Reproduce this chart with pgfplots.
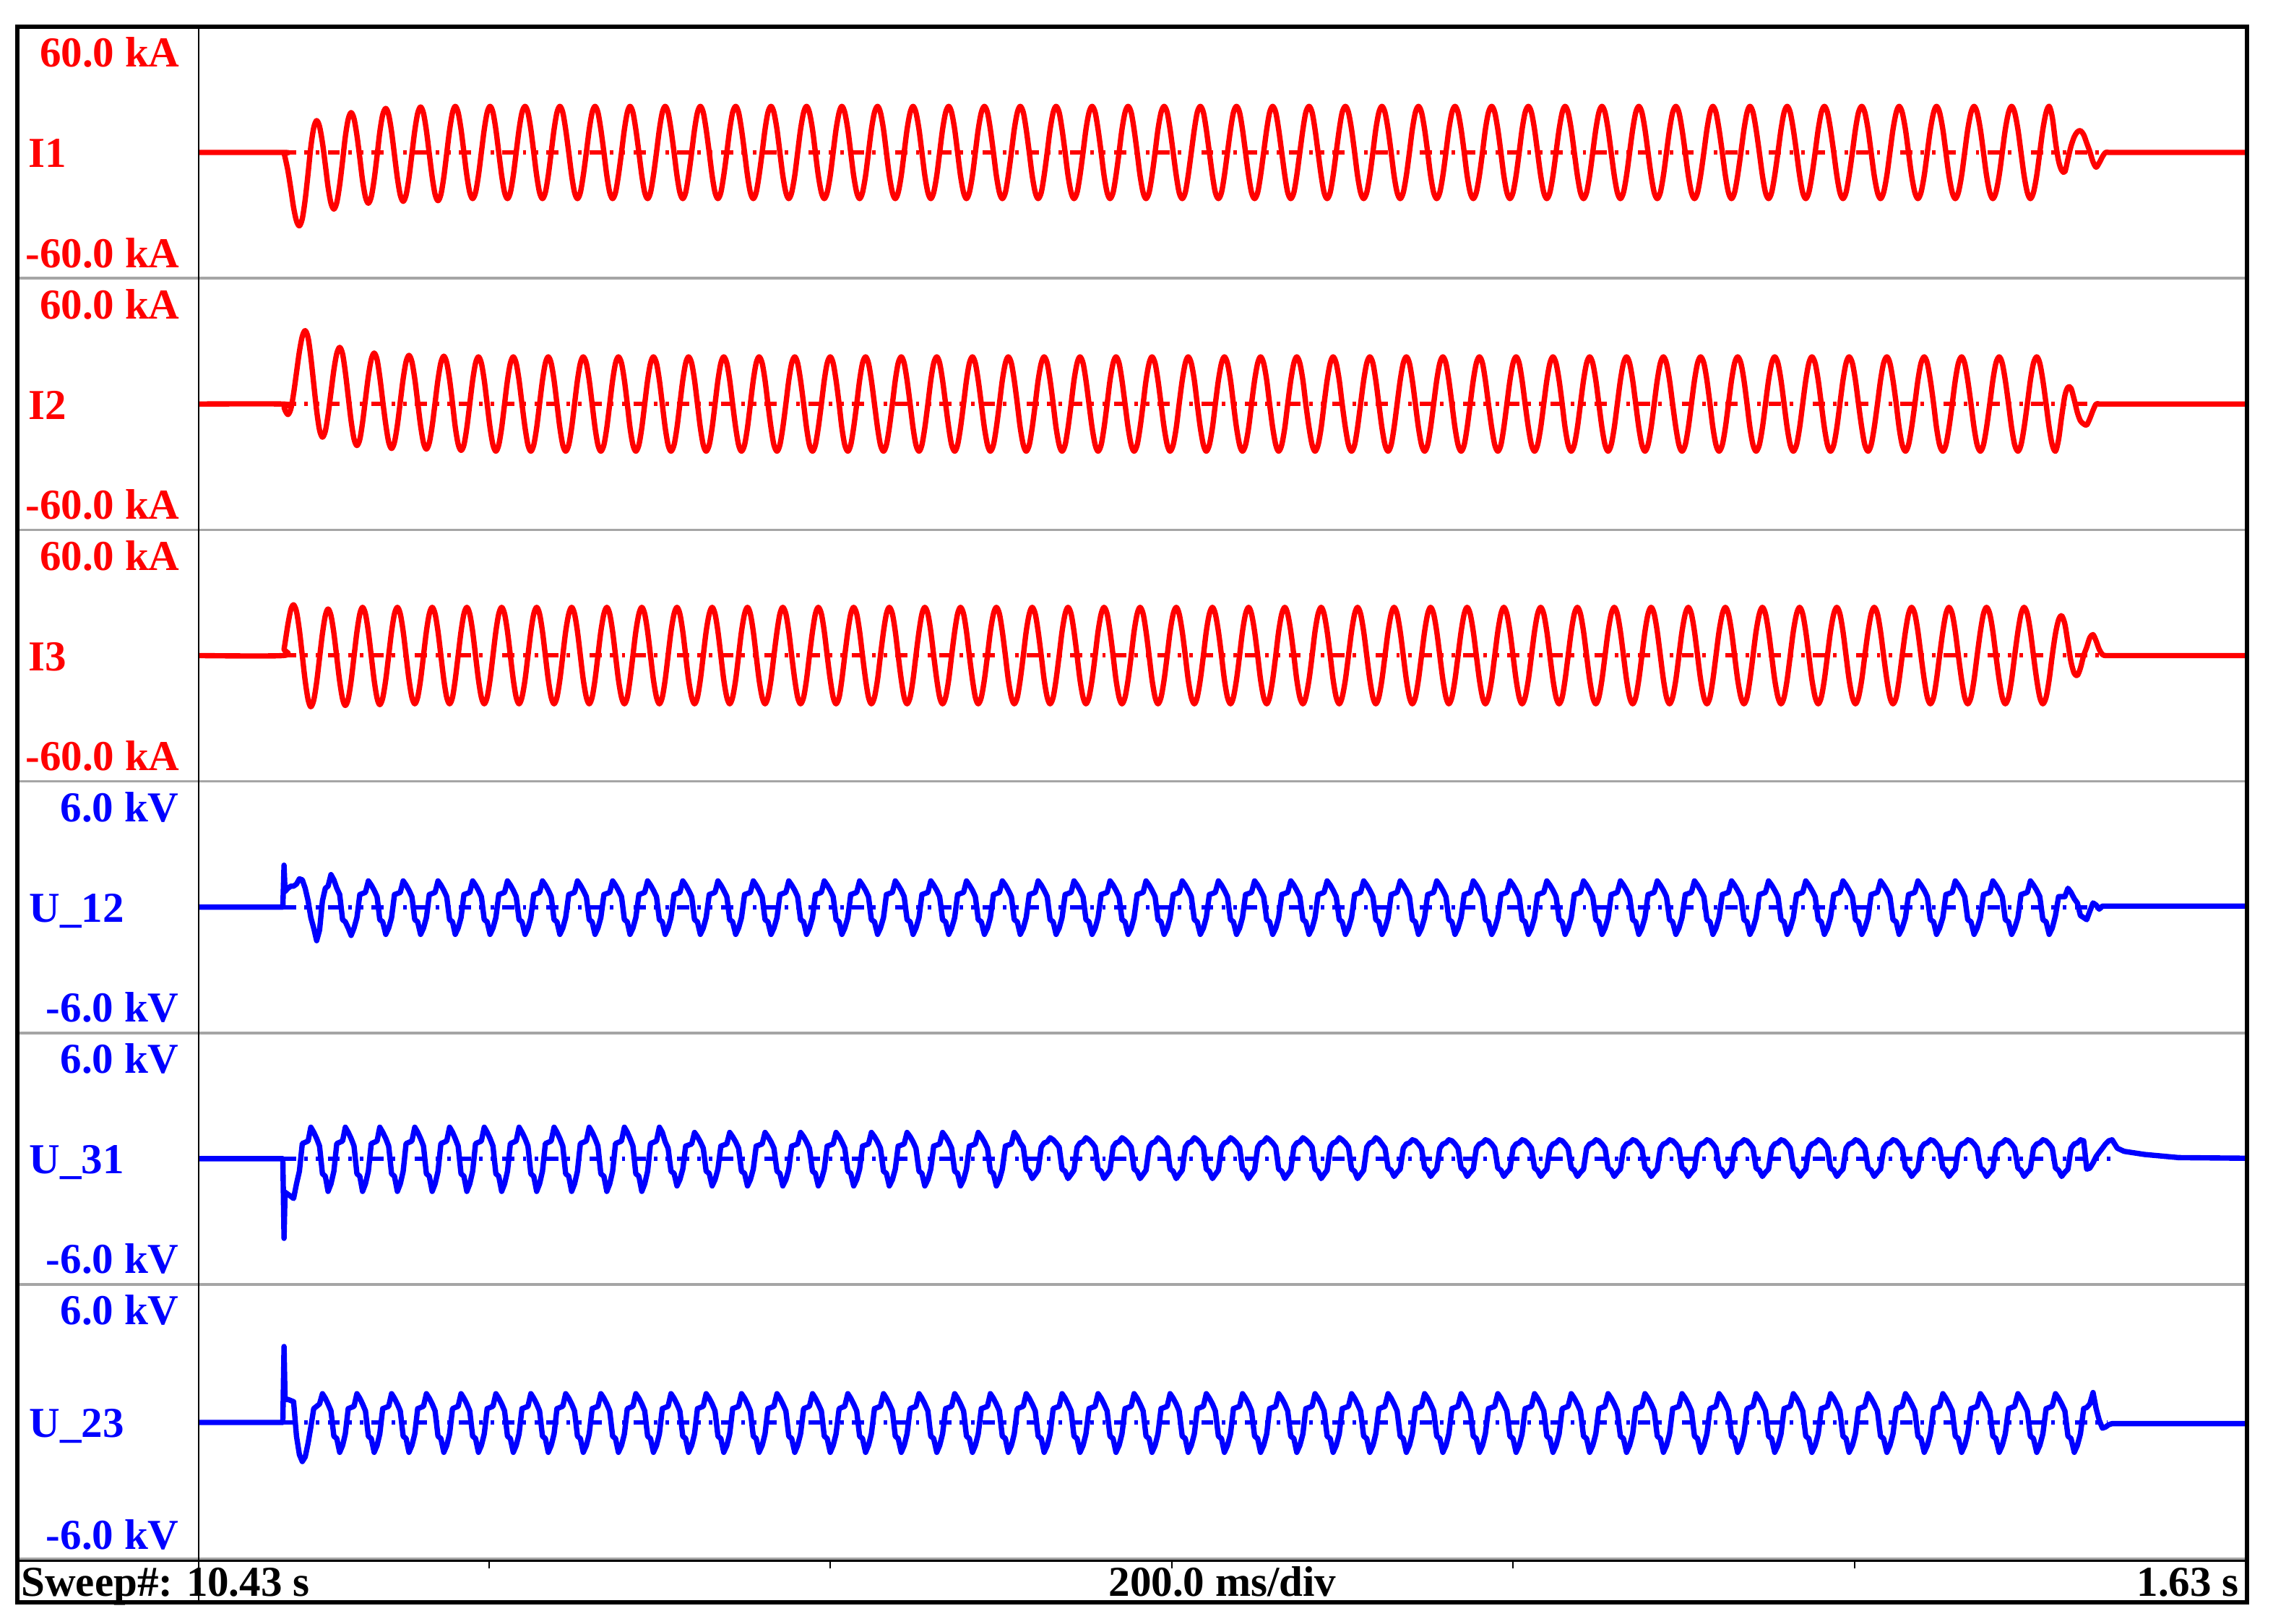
\documentclass[border=0pt]{standalone}
\usepackage{pgfplots}
\pgfplotsset{compat=1.18}
\usepackage{pgfplotstable}
\usepackage{fontspec}
\setmainfont{Liberation Serif}
\definecolor{trred}{RGB}{255,0,0}
\definecolor{trblue}{RGB}{0,0,255}
\definecolor{sepgray}{RGB}{165,165,165}

% t in ms, currents in kA, voltages in kV
\pgfplotstableread{
t i1 i2 i3 u12 u23 u31
430 0 0 0 0 0 0
479.3 0 0 0 0 0 0
480.0 -0.5 -1.5 3 2.0 3.3 -3.8
480.6 -2.3 -3 6 0.75 1.0 -1.6
482.3 -8.8 -5 15 0.9 1.0 -1.7
484.0 -17.5 -2.3 22 1.0 0.95 -1.8
485.6 -26.3 5 24.2 1.0 0.9 -1.9
487.3 -32.7 15 21 1.1 -0.6 -1.2
489.0 -35 25 12.1 1.35 -1.4 -0.6
490.7 -31.6 32.3 0 1.3 -1.7 0.72
492.4 -22.4 35 -12.1 0.9 -1.5 0.78
494.1 -9.9 31.6 -21 0.3 -0.9 0.84
495.7 2.7 22.3 -24.4 -0.5 -0.2 1.5
497.4 11.8 9.6 -21.3 -1.0 0.6 1.26
499.1 15.2 -3.1 -12.75 -1.6 0.7 0.96
500.8 12.4 -12.4 -1.1 -1.1 0.8 0.6
502.5 4.65 -15.8 10.5 0.3 1.25 -0.72
504.2 -5.9 -12.9 19.1 0.9 1.05 -0.84
505.8 -16.45 -5.1 22.2 1.0 0.8 -1.56
507.5 -24.2 5.6 19.1 1.55 0.5 -1.2
509.2 -27 16.3 10.7 1.3 -0.6 -0.6
510.9 -23.9 24.1 -0.8 0.9 -0.7 0.72
512.6 -15.5 27 -12.3 0.6 -1.3 0.78
514.3 -4 23.9 -20.7 -0.6 -1.0 0.84
515.9 7.5 15.3 -23.8 -0.7 -0.5 1.5
517.6 15.9 3.6 -20.7 -1.0 0.6 1.26
519.3 19 -8.1 -12.1 -1.35 0.65 0.96
521.0 16.1 -16.7 -0.4 -1.0 0.7 0.6
522.7 8.2 -19.8 11.3 -0.5 1.25 -0.72
524.4 -2.6 -16.85 19.9 0.6 1.05 -0.84
526.0 -13.4 -8.8 23 0.65 0.8 -1.56
527.7 -21.3 2.25 19.9 0.7 0.5 -1.2
529.4 -24.2 13.3 11.4 1.25 -0.6 -0.6
531.1 -21.2 21.3 -0.2 1.05 -0.7 0.72
532.8 -12.9 24.3 -11.8 0.8 -1.3 0.78
534.5 -1.6 21.25 -20.3 0.5 -1.0 0.84
536.1 9.7 12.9 -23.4 -0.6 -0.5 1.5
537.8 18.0 1.55 -20.3 -0.7 0.6 1.26
539.6 21 -9.8 -11.5 -1.3 0.65 0.96
541.3 18.0 -18.15 0 -1.0 0.7 0.6
543.0 9.9 -21.2 11.5 -0.5 1.25 -0.72
544.7 -1.2 -18.2 19.9 0.6 1.05 -0.84
546.4 -12.2 -10.1 23 0.65 0.8 -1.56
548.1 -20.3 1.0 19.9 0.7 0.5 -1.2
549.8 -23.3 12.1 11.5 1.25 -0.6 -0.6
551.5 -20.3 20.2 0 1.05 -0.7 0.72
553.2 -12.05 23.2 -11.5 0.8 -1.3 0.78
554.9 -0.8 20.2 -19.9 0.5 -1.0 0.84
556.6 10.45 12.0 -23 -0.6 -0.5 1.5
558.3 18.7 0.85 -19.9 -0.7 0.6 1.26
560.0 21.7 -10.3 -11.5 -1.3 0.65 0.96
561.7 18.7 -18.5 0 -1.0 0.7 0.6
563.4 10.5 -21.5 11.5 -0.5 1.25 -0.72
565.1 -0.65 -18.5 19.9 0.6 1.05 -0.84
566.8 -11.8 -10.4 23 0.65 0.8 -1.56
568.5 -20.0 0.65 19.9 0.7 0.5 -1.2
570.2 -23 11.7 11.5 1.25 -0.6 -0.6
571.9 -20.0 19.8 0 1.05 -0.7 0.72
573.6 -11.75 22.8 -11.5 0.8 -1.3 0.78
575.3 -0.5 19.8 -19.9 0.5 -1.0 0.84
577.0 10.75 11.6 -23 -0.6 -0.5 1.5
578.7 19.0 0.35 -19.9 -0.7 0.6 1.26
580.3 22 -10.9 -11.5 -1.3 0.65 0.96
582.0 19.1 -19.1 0 -1.0 0.7 0.6
583.7 11 -22.1 11.5 -0.5 1.25 -0.72
585.4 0 -19.5 19.9 0.6 1.05 -0.84
587.1 -11 -11.3 23 0.65 0.8 -1.56
588.8 -19.1 0 19.9 0.7 0.5 -1.2
590.5 -22 11.3 11.5 1.25 -0.6 -0.6
592.2 -19.1 19.5 0 1.05 -0.7 0.72
593.9 -11 22.5 -11.5 0.8 -1.3 0.78
595.6 0 19.5 -19.9 0.5 -1.0 0.84
597.3 11 11.3 -23 -0.6 -0.5 1.5
599.0 19.1 0 -19.9 -0.7 0.6 1.26
600.7 22 -11.3 -11.5 -1.3 0.65 0.96
602.4 19.1 -19.5 0 -1.0 0.7 0.6
604.1 11 -22.5 11.5 -0.5 1.25 -0.72
605.8 0 -19.5 19.9 0.6 1.05 -0.84
607.5 -11 -11.3 23 0.65 0.8 -1.56
609.2 -19.1 0 19.9 0.7 0.5 -1.2
610.9 -22 11.3 11.5 1.25 -0.6 -0.6
612.6 -19.1 19.5 0 1.05 -0.7 0.72
614.3 -11 22.5 -11.5 0.8 -1.3 0.78
616.0 0 19.5 -19.9 0.5 -1.0 0.84
617.7 11 11.3 -23 -0.6 -0.5 1.5
619.4 19.1 0 -19.9 -0.7 0.6 1.26
621.2 22 -11.3 -11.5 -1.3 0.65 0.96
622.9 19.1 -19.5 0 -1.0 0.7 0.6
624.6 11 -22.5 11.5 -0.5 1.25 -0.72
626.3 0 -19.5 19.9 0.6 1.05 -0.84
628.0 -11 -11.3 23 0.65 0.8 -1.56
629.7 -19.1 0 19.9 0.7 0.5 -1.2
631.4 -22 11.3 11.5 1.25 -0.6 -0.6
633.1 -19.1 19.5 0 1.05 -0.7 0.72
634.8 -11 22.5 -11.5 0.8 -1.3 0.78
636.5 0 19.5 -19.9 0.5 -1.0 0.84
638.2 11 11.3 -23 -0.6 -0.5 1.5
639.9 19.1 0 -19.9 -0.7 0.6 1.26
641.6 22 -11.3 -11.5 -1.3 0.65 0.96
643.3 19.1 -19.5 0 -1.0 0.7 0.6
645.0 11 -22.5 11.5 -0.5 1.25 -0.72
646.8 0 -19.5 19.9 0.6 1.05 -0.84
648.5 -11 -11.3 23 0.65 0.8 -1.56
650.2 -19.1 0 19.9 0.7 0.5 -1.2
651.9 -22 11.3 11.5 1.25 -0.6 -0.6
653.6 -19.1 19.5 0 1.05 -0.7 0.72
655.3 -11 22.5 -11.5 0.8 -1.3 0.78
657.1 0 19.5 -19.9 0.5 -1.0 0.84
658.8 11 11.3 -23 -0.6 -0.5 1.5
660.5 19.1 0 -19.9 -0.7 0.6 1.26
662.2 22 -11.3 -11.5 -1.3 0.65 0.96
663.9 19.1 -19.5 0 -1.0 0.7 0.6
665.6 11 -22.5 11.5 -0.5 1.25 -0.72
667.4 0 -19.5 19.9 0.6 1.05 -0.84
669.1 -11 -11.3 23 0.65 0.8 -1.56
670.8 -19.1 0 19.9 0.7 0.5 -1.2
672.5 -22 11.3 11.5 1.25 -0.6 -0.6
674.2 -19.1 19.5 0 1.05 -0.7 0.72
675.9 -11 22.5 -11.5 0.8 -1.3 0.78
677.7 0 19.5 -19.9 0.5 -1.0 0.84
679.4 11 11.3 -23 -0.6 -0.5 1.5
681.1 19.1 0 -19.9 -0.7 0.6 1.26
682.7 22 -11.3 -11.5 -1.3 0.65 0.96
684.4 19.1 -19.5 0 -1.0 0.7 0.6
686.1 11 -22.5 11.5 -0.5 1.25 -0.72
687.9 0 -19.5 19.9 0.6 1.05 -0.84
689.6 -11 -11.3 23 0.65 0.8 -1.56
691.3 -19.1 0 19.9 0.7 0.5 -1.2
693.0 -22 11.3 11.5 1.25 -0.6 -0.6
694.7 -19.1 19.5 0 1.05 -0.7 0.72
696.4 -11 22.5 -11.5 0.8 -1.3 0.78
698.2 0 19.5 -19.9 0.5 -1.0 0.84
699.9 11 11.3 -23 -0.6 -0.5 1.5
701.6 19.1 0 -19.9 -0.7 0.6 1.26
703.3 22 -11.3 -11.5 -1.3 0.65 0.8
705.0 19.1 -19.5 0 -1.0 0.7 0.5
706.7 11 -22.5 11.5 -0.5 1.25 -0.6
708.5 0 -19.5 19.9 0.6 1.05 -0.7
710.2 -11 -11.3 23 0.65 0.8 -1.3
711.9 -19.1 0 19.9 0.7 0.5 -1.0
713.6 -22 11.3 11.5 1.25 -0.6 -0.5
715.3 -19.1 19.5 0 1.05 -0.7 0.6
717.0 -11 22.5 -11.5 0.8 -1.3 0.65
718.8 0 19.5 -19.9 0.5 -1.0 0.7
720.5 11 11.3 -23 -0.6 -0.5 1.25
722.2 19.1 0 -19.9 -0.7 0.6 1.05
723.9 22 -11.3 -11.5 -1.3 0.65 0.8
725.6 19.1 -19.5 0 -1.0 0.7 0.5
727.3 11 -22.5 11.5 -0.5 1.25 -0.6
729.1 0 -19.5 19.9 0.6 1.05 -0.7
730.8 -11 -11.3 23 0.65 0.8 -1.3
732.5 -19.1 0 19.9 0.7 0.5 -1.0
734.2 -22 11.3 11.5 1.25 -0.6 -0.5
735.9 -19.1 19.5 0 1.05 -0.7 0.6
737.6 -11 22.5 -11.5 0.8 -1.3 0.65
739.4 0 19.5 -19.9 0.5 -1.0 0.7
741.1 11 11.3 -23 -0.6 -0.5 1.25
742.8 19.1 0 -19.9 -0.7 0.6 1.05
744.6 22 -11.3 -11.5 -1.3 0.65 0.8
746.3 19.1 -19.5 0 -1.0 0.7 0.5
748.0 11 -22.5 11.5 -0.5 1.25 -0.6
749.8 0 -19.5 19.9 0.6 1.05 -0.7
751.5 -11 -11.3 23 0.65 0.8 -1.3
753.2 -19.1 0 19.9 0.7 0.5 -1.0
754.9 -22 11.3 11.5 1.25 -0.6 -0.5
756.6 -19.1 19.5 0 1.05 -0.7 0.6
758.3 -11 22.5 -11.5 0.8 -1.3 0.65
760.1 0 19.5 -19.9 0.5 -1.0 0.7
761.8 11 11.3 -23 -0.6 -0.5 1.25
763.5 19.1 0 -19.9 -0.7 0.6 1.05
765.3 22 -11.3 -11.5 -1.3 0.65 0.8
767.0 19.1 -19.5 0 -1.0 0.7 0.5
768.8 11 -22.5 11.5 -0.5 1.25 -0.6
770.5 0 -19.5 19.9 0.6 1.05 -0.7
772.2 -11 -11.3 23 0.65 0.8 -1.3
774.0 -19.1 0 19.9 0.7 0.5 -1.0
775.7 -22 11.3 11.5 1.25 -0.6 -0.5
777.4 -19.1 19.5 0 1.05 -0.7 0.6
779.2 -11 22.5 -11.5 0.8 -1.3 0.65
780.9 0 19.5 -19.9 0.5 -1.0 0.7
782.6 11 11.3 -23 -0.6 -0.5 1.25
784.4 19.1 0 -19.9 -0.7 0.6 1.05
786.1 22 -11.3 -11.5 -1.3 0.65 0.8
787.8 19.1 -19.5 0 -1.0 0.7 0.5
789.6 11 -22.5 11.5 -0.5 1.25 -0.6
791.3 0 -19.5 19.9 0.6 1.05 -0.7
793.0 -11 -11.3 23 0.65 0.8 -1.3
794.8 -19.1 0 19.9 0.7 0.5 -1.0
796.5 -22 11.3 11.5 1.25 -0.6 -0.5
798.2 -19.1 19.5 0 1.05 -0.7 0.6
800.0 -11 22.5 -11.5 0.8 -1.3 0.65
801.7 0 19.5 -19.9 0.5 -1.0 0.7
803.4 11 11.3 -23 -0.6 -0.5 1.25
805.2 19.1 0 -19.9 -0.7 0.6 1.05
806.8 22 -11.3 -11.5 -1.3 0.65 0.8
808.5 19.1 -19.5 0 -1.0 0.7 0.5
810.3 11 -22.5 11.5 -0.5 1.25 -0.6
812.0 0 -19.5 19.9 0.6 1.05 -0.7
813.7 -11 -11.3 23 0.65 0.8 -1.3
815.5 -19.1 0 19.9 0.7 0.5 -1.0
817.2 -22 11.3 11.5 1.25 -0.6 -0.5
818.9 -19.1 19.5 0 1.05 -0.7 0.6
820.7 -11 22.5 -11.5 0.8 -1.3 0.65
822.4 0 19.5 -19.9 0.5 -1.0 0.7
824.1 11 11.3 -23 -0.6 -0.5 1.25
825.9 19.1 0 -19.9 -0.7 0.6 1.05
827.7 22 -11.3 -11.5 -1.3 0.65 0.8
829.4 19.1 -19.5 0 -1.0 0.7 0.5
831.2 11 -22.5 11.5 -0.5 1.25 -0.6
832.9 0 -19.5 19.9 0.6 1.05 -0.7
834.6 -11 -11.3 23 0.65 0.8 -1.3
836.4 -19.1 0 19.9 0.7 0.5 -1.0
838.1 -22 11.3 11.5 1.25 -0.6 -0.5
839.8 -19.1 19.5 0 1.05 -0.7 0.6
841.6 -11 22.5 -11.5 0.8 -1.3 0.65
843.3 0 19.5 -19.9 0.5 -1.0 0.7
845.0 11 11.3 -23 -0.6 -0.5 1.25
846.8 19.1 0 -19.9 -0.7 0.6 1.05
848.5 22 -11.3 -11.5 -1.3 0.65 0.8
850.2 19.1 -19.5 0 -1.0 0.7 0.5
852.0 11 -22.5 11.5 -0.5 1.25 -0.6
853.7 0 -19.5 19.9 0.6 1.05 -0.7
855.4 -11 -11.3 23 0.65 0.8 -1.3
857.2 -19.1 0 19.9 0.7 0.5 -1.0
858.9 -22 11.3 11.5 1.25 -0.6 -0.5
860.6 -19.1 19.5 0 1.05 -0.7 0.6
862.4 -11 22.5 -11.5 0.8 -1.3 0.65
864.1 0 19.5 -19.9 0.5 -1.0 0.7
865.8 11 11.3 -23 -0.6 -0.5 1.25
867.6 19.1 0 -19.9 -0.7 0.6 1.05
869.4 22 -11.3 -11.5 -1.3 0.65 0.8
871.1 19.1 -19.5 0 -1.0 0.7 0.5
872.9 11 -22.5 11.5 -0.5 1.25 -0.6
874.6 0 -19.5 19.9 0.6 1.05 -0.7
876.3 -11 -11.3 23 0.65 0.8 -1.3
878.1 -19.1 0 19.9 0.7 0.5 -1.0
879.8 -22 11.3 11.5 1.25 -0.6 -0.5
881.5 -19.1 19.5 0 1.05 -0.7 0.6
883.3 -11 22.5 -11.5 0.8 -1.3 0.65
885.0 0 19.5 -19.9 0.5 -1.0 0.7
886.7 11 11.3 -23 -0.6 -0.5 1.25
888.5 19.1 0 -19.9 -0.7 0.6 1.05
890.3 22 -11.3 -11.5 -1.3 0.65 0.8
892.1 19.1 -19.5 0 -1.0 0.7 0.5
893.8 11 -22.5 11.5 -0.5 1.25 -0.6
895.6 0 -19.5 19.9 0.6 1.05 -0.7
897.3 -11 -11.3 23 0.65 0.8 -1.3
899.1 -19.1 0 19.9 0.7 0.5 -1.0
900.8 -22 11.3 11.5 1.25 -0.6 -0.5
902.6 -19.1 19.5 0 1.05 -0.7 0.6
904.3 -11 22.5 -11.5 0.8 -1.3 0.65
906.1 0 19.5 -19.9 0.5 -1.0 0.7
907.8 11 11.3 -23 -0.6 -0.5 1.25
909.6 19.1 0 -19.9 -0.7 0.6 1.05
911.3 22 -11.3 -11.5 -1.3 0.65 0.75
913.1 19.1 -19.5 0 -1.0 0.7 0.55
914.8 11 -22.5 11.5 -0.5 1.25 -0.5
916.6 0 -19.5 19.9 0.6 1.05 -0.6
918.3 -11 -11.3 23 0.65 0.8 -0.95
920.1 -19.1 0 19.9 0.7 0.5 -0.75
921.8 -22 11.3 11.5 1.25 -0.6 -0.55
923.6 -19.1 19.5 0 1.05 -0.7 0.55
925.3 -11 22.5 -11.5 0.8 -1.3 0.75
927.1 0 19.5 -19.9 0.5 -1.0 0.8
928.8 11 11.3 -23 -0.6 -0.5 1.0
930.6 19.1 0 -19.9 -0.7 0.6 0.9
932.3 22 -11.3 -11.5 -1.3 0.65 0.75
934.1 19.1 -19.5 0 -1.0 0.7 0.55
935.8 11 -22.5 11.5 -0.5 1.25 -0.5
937.6 0 -19.5 19.9 0.6 1.05 -0.6
939.3 -11 -11.3 23 0.65 0.8 -0.95
941.1 -19.1 0 19.9 0.7 0.5 -0.75
942.8 -22 11.3 11.5 1.25 -0.6 -0.55
944.6 -19.1 19.5 0 1.05 -0.7 0.55
946.3 -11 22.5 -11.5 0.8 -1.3 0.75
948.1 0 19.5 -19.9 0.5 -1.0 0.8
949.8 11 11.3 -23 -0.6 -0.5 1.0
951.6 19.1 0 -19.9 -0.7 0.6 0.9
953.4 22 -11.3 -11.5 -1.3 0.65 0.75
955.2 19.1 -19.5 0 -1.0 0.7 0.55
956.9 11 -22.5 11.5 -0.5 1.25 -0.5
958.7 0 -19.5 19.9 0.6 1.05 -0.6
960.4 -11 -11.3 23 0.65 0.8 -0.95
962.2 -19.1 0 19.9 0.7 0.5 -0.75
963.9 -22 11.3 11.5 1.25 -0.6 -0.55
965.7 -19.1 19.5 0 1.05 -0.7 0.55
967.4 -11 22.5 -11.5 0.8 -1.3 0.75
969.2 0 19.5 -19.9 0.5 -1.0 0.8
970.9 11 11.3 -23 -0.6 -0.5 1.0
972.7 19.1 0 -19.9 -0.7 0.6 0.9
974.5 22 -11.3 -11.5 -1.3 0.65 0.75
976.3 19.1 -19.5 0 -1.0 0.7 0.55
978.0 11 -22.5 11.5 -0.5 1.25 -0.5
979.8 0 -19.5 19.9 0.6 1.05 -0.6
981.5 -11 -11.3 23 0.65 0.8 -0.95
983.3 -19.1 0 19.9 0.7 0.5 -0.75
985.0 -22 11.3 11.5 1.25 -0.6 -0.55
986.8 -19.1 19.5 0 1.05 -0.7 0.55
988.5 -11 22.5 -11.5 0.8 -1.3 0.75
990.3 0 19.5 -19.9 0.5 -1.0 0.8
992.0 11 11.3 -23 -0.6 -0.5 1.0
993.8 19.1 0 -19.9 -0.7 0.6 0.9
995.6 22 -11.3 -11.5 -1.3 0.65 0.75
997.4 19.1 -19.5 0 -1.0 0.7 0.55
999.1 11 -22.5 11.5 -0.5 1.25 -0.5
1000.9 0 -19.5 19.9 0.6 1.05 -0.6
1002.7 -11 -11.3 23 0.65 0.8 -0.95
1004.4 -19.1 0 19.9 0.7 0.5 -0.75
1006.2 -22 11.3 11.5 1.25 -0.6 -0.55
1008.0 -19.1 19.5 0 1.05 -0.7 0.55
1009.7 -11 22.5 -11.5 0.8 -1.3 0.75
1011.5 0 19.5 -19.9 0.5 -1.0 0.8
1013.3 11 11.3 -23 -0.6 -0.5 1.0
1015.0 19.1 0 -19.9 -0.7 0.6 0.9
1016.8 22 -11.3 -11.5 -1.3 0.65 0.75
1018.6 19.1 -19.5 0 -1.0 0.7 0.55
1020.3 11 -22.5 11.5 -0.5 1.25 -0.5
1022.1 0 -19.5 19.9 0.6 1.05 -0.6
1023.9 -11 -11.3 23 0.65 0.8 -0.95
1025.6 -19.1 0 19.9 0.7 0.5 -0.75
1027.4 -22 11.3 11.5 1.25 -0.6 -0.55
1029.2 -19.1 19.5 0 1.05 -0.7 0.55
1030.9 -11 22.5 -11.5 0.8 -1.3 0.75
1032.7 0 19.5 -19.9 0.5 -1.0 0.8
1034.5 11 11.3 -23 -0.6 -0.5 1.0
1036.2 19.1 0 -19.9 -0.7 0.6 0.9
1038.0 22 -11.3 -11.5 -1.3 0.65 0.75
1039.8 19.1 -19.5 0 -1.0 0.7 0.55
1041.5 11 -22.5 11.5 -0.5 1.25 -0.5
1043.3 0 -19.5 19.9 0.6 1.05 -0.6
1045.1 -11 -11.3 23 0.65 0.8 -0.95
1046.8 -19.1 0 19.9 0.7 0.5 -0.75
1048.6 -22 11.3 11.5 1.25 -0.6 -0.55
1050.4 -19.1 19.5 0 1.05 -0.7 0.55
1052.1 -11 22.5 -11.5 0.8 -1.3 0.75
1053.9 0 19.5 -19.9 0.5 -1.0 0.8
1055.7 11 11.3 -23 -0.6 -0.5 1.0
1057.4 19.1 0 -19.9 -0.7 0.6 0.9
1059.2 22 -11.3 -11.5 -1.3 0.65 0.75
1061.0 19.1 -19.5 0 -1.0 0.7 0.55
1062.7 11 -22.5 11.5 -0.5 1.25 -0.5
1064.5 0 -19.5 19.9 0.6 1.05 -0.6
1066.3 -11 -11.3 23 0.65 0.8 -0.95
1068.0 -19.1 0 19.9 0.7 0.5 -0.75
1069.8 -22 11.3 11.5 1.25 -0.6 -0.55
1071.6 -19.1 19.5 0 1.05 -0.7 0.55
1073.3 -11 22.5 -11.5 0.8 -1.3 0.75
1075.1 0 19.5 -19.9 0.5 -1.0 0.8
1076.9 11 11.3 -23 -0.6 -0.5 1.0
1078.6 19.1 0 -19.9 -0.7 0.6 0.9
1080.5 22 -11.3 -11.5 -1.3 0.65 0.75
1082.3 19.1 -19.5 0 -1.0 0.7 0.55
1084.0 11 -22.5 11.5 -0.5 1.25 -0.5
1085.8 0 -19.5 19.9 0.6 1.05 -0.6
1087.6 -11 -11.3 23 0.65 0.8 -0.95
1089.3 -19.1 0 19.9 0.7 0.5 -0.75
1091.1 -22 11.3 11.5 1.25 -0.6 -0.55
1092.9 -19.1 19.5 0 1.05 -0.7 0.55
1094.6 -11 22.5 -11.5 0.8 -1.3 0.75
1096.4 0 19.5 -19.9 0.5 -1.0 0.8
1098.2 11 11.3 -23 -0.6 -0.5 1.0
1099.9 19.1 0 -19.9 -0.7 0.6 0.9
1101.8 22 -11.3 -11.5 -1.3 0.65 0.75
1103.6 19.1 -19.5 0 -1.0 0.7 0.55
1105.4 11 -22.5 11.5 -0.5 1.25 -0.5
1107.2 0 -19.5 19.9 0.6 1.05 -0.6
1108.9 -11 -11.3 23 0.65 0.8 -0.95
1110.7 -19.1 0 19.9 0.7 0.5 -0.75
1112.5 -22 11.3 11.5 1.25 -0.6 -0.55
1114.3 -19.1 19.5 0 1.05 -0.7 0.55
1116.1 -11 22.5 -11.5 0.8 -1.3 0.75
1117.9 0 19.5 -19.9 0.5 -1.0 0.8
1119.6 11 11.3 -23 -0.6 -0.5 1.0
1121.4 19.1 0 -19.9 -0.7 0.6 0.9
1123.2 22 -11.3 -11.5 -1.3 0.65 0.7
1125.0 19.1 -19.5 0 -1.0 0.7 0.5
1126.8 11 -22.5 11.5 -0.5 1.25 -0.45
1128.6 0 -19.5 19.9 0.6 1.05 -0.55
1130.3 -11 -11.3 23 0.65 0.8 -0.85
1132.1 -19.1 0 19.9 0.7 0.5 -0.65
1133.9 -22 11.3 11.5 1.25 -0.6 -0.5
1135.7 -19.1 19.5 0 1.05 -0.7 0.5
1137.5 -11 22.5 -11.5 0.8 -1.3 0.7
1139.3 0 19.5 -19.9 0.5 -1.0 0.75
1141.0 11 11.3 -23 -0.6 -0.5 0.9
1142.8 19.1 0 -19.9 -0.7 0.6 0.85
1144.6 22 -11.3 -11.5 -1.3 0.65 0.7
1146.4 19.1 -19.5 0 -1.0 0.7 0.5
1148.2 11 -22.5 11.5 -0.5 1.25 -0.45
1150.0 0 -19.5 19.9 0.6 1.05 -0.55
1151.7 -11 -11.3 23 0.65 0.8 -0.85
1153.5 -19.1 0 19.9 0.7 0.5 -0.65
1155.3 -22 11.3 11.5 1.25 -0.6 -0.5
1157.1 -19.1 19.5 0 1.05 -0.7 0.5
1158.9 -11 22.5 -11.5 0.8 -1.3 0.7
1160.7 0 19.5 -19.9 0.5 -1.0 0.75
1162.4 11 11.3 -23 -0.6 -0.5 0.9
1164.2 19.1 0 -19.9 -0.7 0.6 0.85
1166.0 22 -11.3 -11.5 -1.3 0.65 0.7
1167.8 19.1 -19.5 0 -1.0 0.7 0.5
1169.6 11 -22.5 11.5 -0.5 1.25 -0.45
1171.4 0 -19.5 19.9 0.6 1.05 -0.55
1173.1 -11 -11.3 23 0.65 0.8 -0.85
1174.9 -19.1 0 19.9 0.7 0.5 -0.65
1176.7 -22 11.3 11.5 1.25 -0.6 -0.5
1178.5 -19.1 19.5 0 1.05 -0.7 0.5
1180.3 -11 22.5 -11.5 0.8 -1.3 0.7
1182.1 0 19.5 -19.9 0.5 -1.0 0.75
1183.8 11 11.3 -23 -0.6 -0.5 0.9
1185.6 19.1 0 -19.9 -0.7 0.6 0.85
1187.5 22 -11.3 -11.5 -1.3 0.65 0.7
1189.3 19.1 -19.5 0 -1.0 0.7 0.5
1191.1 11 -22.5 11.5 -0.5 1.25 -0.45
1192.9 0 -19.5 19.9 0.6 1.05 -0.55
1194.6 -11 -11.3 23 0.65 0.8 -0.85
1196.4 -19.1 0 19.9 0.7 0.5 -0.65
1198.2 -22 11.3 11.5 1.25 -0.6 -0.5
1200.0 -19.1 19.5 0 1.05 -0.7 0.5
1201.8 -11 22.5 -11.5 0.8 -1.3 0.7
1203.6 0 19.5 -19.9 0.5 -1.0 0.75
1205.3 11 11.3 -23 -0.6 -0.5 0.9
1207.1 19.1 0 -19.9 -0.7 0.6 0.85
1209.0 22 -11.3 -11.5 -1.3 0.65 0.7
1210.8 19.1 -19.5 0 -1.0 0.7 0.5
1212.6 11 -22.5 11.5 -0.5 1.25 -0.45
1214.4 0 -19.5 19.9 0.6 1.05 -0.55
1216.2 -11 -11.3 23 0.65 0.8 -0.85
1218.0 -19.1 0 19.9 0.7 0.5 -0.65
1219.8 -22 11.3 11.5 1.25 -0.6 -0.5
1221.6 -19.1 19.5 0 1.05 -0.7 0.5
1223.4 -11 22.5 -11.5 0.8 -1.3 0.7
1225.2 0 19.5 -19.9 0.5 -1.0 0.75
1227.0 11 11.3 -23 -0.6 -0.5 0.9
1228.8 19.1 0 -19.9 -0.7 0.6 0.85
1230.5 22 -11.3 -11.5 -1.3 0.65 0.7
1232.3 19.1 -19.5 0 -1.0 0.7 0.5
1234.1 11 -22.5 11.5 -0.5 1.25 -0.45
1235.9 0 -19.5 19.9 0.6 1.05 -0.55
1237.7 -11 -11.3 23 0.65 0.8 -0.85
1239.5 -19.1 0 19.9 0.7 0.5 -0.65
1241.3 -22 11.3 11.5 1.25 -0.6 -0.5
1243.1 -19.1 19.5 0 1.05 -0.7 0.5
1244.9 -11 22.5 -11.5 0.8 -1.3 0.7
1246.7 0 19.5 -19.9 0.5 -1.0 0.75
1248.5 11 11.3 -23 -0.6 -0.5 0.9
1250.3 19.1 0 -19.9 -0.7 0.6 0.85
1252.1 22 -11.3 -11.5 -1.3 0.65 0.7
1253.9 19.1 -19.5 0 -1.0 0.7 0.5
1255.7 11 -22.5 11.5 -0.5 1.25 -0.45
1257.5 0 -19.5 19.9 0.6 1.05 -0.55
1259.3 -11 -11.3 23 0.65 0.8 -0.85
1261.1 -19.1 0 19.9 0.7 0.5 -0.65
1262.9 -22 11.3 11.5 1.25 -0.6 -0.5
1264.7 -19.1 19.5 0 1.05 -0.7 0.5
1266.5 -11 22.5 -11.5 0.8 -1.3 0.7
1268.3 0 19.5 -19.9 0.5 -1.0 0.75
1270.1 11 11.3 -23 -0.6 -0.5 0.9
1271.9 19.1 0 -19.9 -0.7 0.6 0.85
1273.7 22 -11.3 -11.5 -1.3 0.65 0.7
1275.5 19.1 -19.5 0 -1.0 0.7 0.5
1277.3 11 -22.5 11.5 -0.5 1.25 -0.45
1279.1 0 -19.5 19.9 0.6 1.05 -0.55
1280.9 -11 -11.3 23 0.65 0.8 -0.85
1282.7 -19.1 0 19.9 0.7 0.5 -0.65
1284.5 -22 11.3 11.5 1.25 -0.6 -0.5
1286.3 -19.1 19.5 0 1.05 -0.7 0.5
1288.1 -11 22.5 -11.5 0.8 -1.3 0.7
1289.9 0 19.5 -19.9 0.5 -1.0 0.75
1291.7 11 11.3 -23 -0.6 -0.5 0.9
1293.5 19.1 0 -19.9 -0.7 0.6 0.85
1295.4 22 -11.3 -11.5 -1.3 0.65 0.7
1297.2 19.1 -19.5 0 -1.0 0.7 0.5
1299.0 11 -22.5 11.5 -0.5 1.25 -0.45
1300.9 0 -19.5 19.9 0.6 1.05 -0.55
1302.7 -11 -11.3 23 0.65 0.8 -0.85
1304.5 -19.1 0 19.9 0.7 0.5 -0.65
1306.3 -22 11.3 11.5 1.25 -0.6 -0.5
1308.1 -19.1 19.5 0 1.05 -0.7 0.5
1309.9 -11 22.5 -11.5 0.8 -1.3 0.7
1311.8 0 19.5 -19.9 0.5 -1.0 0.75
1313.6 11 11.3 -23 -0.6 -0.5 0.9
1315.4 19.1 0 -19.9 -0.7 0.6 0.85
1317.1 22 -11.3 -11.5 -1.3 0.65 0.7
1318.9 19.1 -19.5 0 -1.0 0.7 0.5
1320.7 11 -22.5 11.5 -0.5 1.25 -0.45
1322.6 0 -19.5 19.9 0.6 1.05 -0.55
1324.4 -11 -11.3 23 0.65 0.8 -0.85
1326.2 -19.1 0 19.9 0.7 0.5 -0.65
1328.0 -22 11.3 11.5 1.25 -0.6 -0.5
1329.8 -19.1 19.5 0 1.05 -0.7 0.5
1331.6 -11 22.5 -11.5 0.8 -1.3 0.7
1333.5 0 19.5 -19.9 0.5 -1.0 0.75
1335.3 11 11.3 -23 -0.6 -0.5 0.9
1337.1 19.1 0 -19.9 -0.7 0.6 0.85
1338.8 22 -11.3 -11.5 -1.3 0.65 0.7
1340.6 19.1 -19.5 0 -1.0 0.7 0.5
1342.4 11 -22.5 11.5 -0.5 1.25 -0.45
1344.3 0 -19.5 19.9 0.6 1.05 -0.55
1346.1 -11 -11.3 23 0.65 0.8 -0.85
1347.9 -19.1 0 19.9 0.7 0.5 -0.65
1349.7 -22 11.3 11.5 1.25 -0.6 -0.5
1351.5 -19.1 19.5 0 1.05 -0.7 0.5
1353.3 -11 22.5 -11.5 0.8 -1.3 0.7
1355.2 0 19.5 -19.9 0.5 -1.0 0.75
1357.0 11 11.3 -23 -0.6 -0.5 0.9
1358.8 19.1 0 -19.9 -0.7 0.6 0.85
1360.6 22 -11.3 -11.5 -1.3 0.65 0.7
1362.4 19.1 -19.5 0 -1.0 0.7 0.5
1364.2 11 -22.5 11.5 -0.5 1.25 -0.45
1366.1 0 -19.5 19.9 0.6 1.05 -0.55
1367.9 -11 -11.3 23 0.65 0.8 -0.85
1369.7 -19.1 0 19.9 0.7 0.5 -0.65
1371.5 -22 11.3 11.5 1.25 -0.6 -0.5
1373.3 -19.1 19.5 0 1.05 -0.7 0.5
1375.1 -11 22.5 -11.5 0.8 -1.3 0.7
1377.0 0 19.5 -19.9 0.5 -1.0 0.75
1378.8 11 11.3 -23 -0.6 -0.5 0.9
1380.6 19.1 0 -19.9 -0.7 0.6 0.85
1382.4 22 -11.3 -11.5 -1.3 0.65 0.7
1384.2 19.1 -19.5 0 -1.0 0.7 0.5
1386.0 11 -22.5 11.5 -0.5 1.25 -0.45
1387.9 0 -19.5 19.9 0.6 1.05 -0.55
1389.7 -11 -11.3 23 0.65 0.8 -0.85
1391.5 -19.1 0 19.9 0.7 0.5 -0.65
1393.3 -22 11.3 11.5 1.25 -0.6 -0.5
1395.1 -19.1 19.5 0 1.05 -0.7 0.5
1396.9 -11 22.5 -11.5 0.8 -1.3 0.7
1398.8 0 19.5 -19.9 0.5 -1.0 0.75
1400.6 11 11.3 -23 -0.6 -0.5 0.9
1402.4 19.1 0 -19.9 -0.7 0.6 0.85
1404.3 22 -11.3 -11.5 -1.3 0.65 0.7
1406.1 19.1 -19.5 0 -1.0 0.7 0.5
1408.0 11 -22.5 11.5 -0.5 1.25 -0.45
1409.8 0 -19.5 19.9 0.6 1.05 -0.55
1411.6 -11 -11.3 23 0.65 0.8 -0.85
1413.5 -19.1 0 19.9 0.7 0.5 -0.65
1415.3 -22 11.3 11.5 1.25 -0.6 -0.5
1417.1 -19.1 19.5 0 1.05 -0.7 0.5
1419.0 -11 22.5 -11.5 0.8 -1.3 0.7
1420.8 0 19.5 -19.9 0.5 -1.0 0.75
1422.6 11 11.3 -23 -0.6 -0.5 0.9
1424.5 19.1 0 -19.9 -0.7 0.6 0.85
1426.2 22 -11.3 -11.5 -1.3 0.65 0.7
1428.0 19.1 -19.5 0 -1.0 0.7 0.5
1429.9 11 -22.5 11.5 -0.5 1.25 -0.45
1431.7 0 -19.5 19.9 0.6 1.05 -0.55
1433.5 -11 -11.3 23 0.65 0.8 -0.85
1435.4 -19.1 0 19.9 0.7 0.5 -0.65
1437.2 -22 11.3 11.5 1.25 -0.6 -0.5
1439.0 -19.1 19.5 0 1.05 -0.7 0.5
1440.9 -11 22.5 -11.5 0.8 -1.3 0.7
1442.7 0 19.5 -19.9 0.5 -1.0 0.75
1444.5 11 11.3 -23 -0.6 -0.5 0.9
1446.4 19.1 0 -19.9 -0.7 0.6 0.85
1448.1 22 -11.3 -11.5 -1.3 0.65 0.7
1449.9 19.1 -19.5 0 -1.0 0.7 0.5
1451.8 11 -22.5 11.5 -0.5 1.25 -0.45
1453.6 0 -19.5 19.9 0.6 1.05 -0.55
1455.4 -11 -11.3 23 0.65 0.8 -0.85
1457.3 -19.1 0 19.9 0.7 0.5 -0.65
1459.1 -22 11.3 11.5 1.25 -0.6 -0.5
1460.9 -19.1 19.5 0 1.05 -0.7 0.5
1462.8 -11 22.5 -11.5 0.8 -1.3 0.7
1464.6 0 19.5 -19.9 0.5 -1.0 0.75
1466.4 11 11.3 -23 -0.6 -0.5 0.9
1468.3 19.1 0 -19.9 -0.7 0.6 0.85
1470.1 22 -11.3 -11.5 -1.3 0.65 0.7
1471.9 19.1 -19.5 0 -1.0 0.7 0.5
1473.8 11 -22.5 11.5 -0.5 1.25 -0.45
1475.6 0 -19.5 19.9 0.6 1.05 -0.55
1477.4 -11 -11.3 23 0.65 0.8 -0.85
1479.3 -19.1 0 19.9 0.7 0.5 -0.65
1481.1 -22 11.3 11.5 1.25 -0.6 -0.5
1482.9 -19.1 19.5 0 1.05 -0.7 0.5
1484.8 -11 22.5 -11.5 0.8 -1.3 0.7
1486.6 0 19.5 -19.9 0.5 -1.0 0.75
1488.4 11 11.3 -23 -0.6 -0.5 0.9
1490.3 19.1 0 -19.9 -0.7 0.6 0.85
1492.1 22 -11.3 -11.5 -1.3 0.65 0.7
1493.9 19.1 -19.5 0 -1.0 0.7 0.5
1495.8 11 -22.5 11.5 -0.5 1.25 -0.45
1497.6 0 -19.5 19.9 0.6 1.05 -0.55
1499.4 -11 -11.3 23 0.65 0.8 -0.85
1501.3 -19.1 0 19.9 0.7 0.5 -0.65
1503.1 -22 11.3 11.5 1.25 -0.6 -0.5
1504.9 -19.1 19.5 0 1.05 -0.7 0.5
1506.8 -11 22.5 -11.5 0.8 -1.3 0.7
1508.6 0 19.5 -19.9 0.5 -1.0 0.75
1510.4 11 11.3 -23 -0.6 -0.5 0.9
1512.3 19.1 0 -19.9 -0.7 0.6 0.85
1514.1 22 -11.3 -11.5 -1.3 0.65 0.7
1515.9 17 -19.5 0 -1.0 0.7 0.5
1517.8 5 -22.5 10.5 -0.4 1.25 -0.45
1519.6 -4 -17 17 0.5 1.05 -0.55
1521.4 -8.5 -6 19 0.5 0.8 -0.85
1523.3 -9.2 4 15 0.5 0.5 -0.65
1525.1 -3 8 6 0.9 -0.6 -0.5
1526.9 3 7.5 -3 0.7 -0.7 0.5
1528.8 7.5 2 -8.5 0.4 -1.3 0.7
1530.6 9.8 -4 -9.5 0.2 -1.0 0.75
1532.4 10.4 -8 -6 -0.4 -0.5 0.9
1534.3 8.5 -9.5 0 -0.5 0.6 0.85
1536.1 4.5 -10 4 -0.6 0.65 -0.5
1537.9 0.5 -7 8.5 -0.2 0.8 -0.45
1539.8 -4.5 -3 10 0.2 1.3 -0.2
1541.6 -7 0 7 0.1 0.6 0.1
1543.4 -5 0 3 -0.1 0.1 0.3
1545.3 -2 0 0.5 0.05 -0.25 0.5
1547.1 0 0 0 0.05 -0.2 0.7
1549.0 0 0 0 0.05 -0.1 0.85
1551.0 0 0 0 0.05 -0.05 0.9
1554.0 0 0 0 0.05 -0.05 0.5
1558.0 0 0 0 0.05 -0.05 0.35
1570.0 0 0 0 0.05 -0.05 0.2
1590.0 0 0 0 0.05 -0.05 0.05
1630 0 0 0 0.05 -0.05 0.02
}\osc

\pgfplotsset{
  panel/.style={scale only axis, width=14.175cm, height=1.741cm,
    xmin=430, xmax=1630, hide axis, anchor=south west},
  trace/.style={line width=1.05pt, mark=none, line join=round},
  zline/.style={line width=0.85pt, mark=none,
    dash pattern=on 2.4pt off 1.6pt on 0.7pt off 1.6pt on 0.7pt off 1.6pt},
}

\begin{document}
\begin{tikzpicture}[x=1cm,y=1cm]
\path (0,0) rectangle (15.73,11.24);

% I1
\begin{axis}[panel, at={(1.375cm,9.314cm)}, ymin=-60, ymax=60]
\addplot[trred, zline] coordinates {(480,0) (1547,0)};
\addplot[trred, trace, smooth] table[x=t, y=i1] {\osc};
\end{axis}
% I2
\begin{axis}[panel, at={(1.375cm,7.573cm)}, ymin=-60, ymax=60]
\addplot[trred, zline] coordinates {(480,0) (1543,0)};
\addplot[trred, trace, smooth] table[x=t, y=i2] {\osc};
\end{axis}
% I3
\begin{axis}[panel, at={(1.375cm,5.832cm)}, ymin=-60, ymax=60]
\addplot[trred, zline] coordinates {(480,0) (1546,0)};
\addplot[trred, trace, smooth] table[x=t, y=i3] {\osc};
\end{axis}
% U_12
\begin{axis}[panel, at={(1.375cm,4.091cm)}, ymin=-6, ymax=6]
\addplot[trblue, zline] coordinates {(480,0) (1546,0)};
\addplot[trblue, trace] table[x=t, y=u12] {\osc};
\end{axis}
% U_31
\begin{axis}[panel, at={(1.375cm,2.35cm)}, ymin=-6, ymax=6]
\addplot[trblue, zline] coordinates {(480,0) (1550,0)};
\addplot[trblue, trace] table[x=t, y=u31] {\osc};
\end{axis}
% U_23
\begin{axis}[panel, at={(1.375cm,0.44cm)}, height=1.91cm, ymin=-6, ymax=6]
\addplot[trblue, zline] coordinates {(480,0) (1548,0)};
\addplot[trblue, trace] table[x=t, y=u23] {\osc};
\end{axis}

% frame and separators
\foreach \y in {9.314,7.573,5.832,4.091,2.35}
  \draw[sepgray, line width=0.5pt] (0.12,\y) -- (15.55,\y);
\draw[sepgray, line width=0.4pt] (0.12,0.452) -- (15.55,0.452);
\draw[black, line width=0.4pt] (0.12,0.436) -- (15.55,0.436);
\draw[black, line width=0.4pt] (1.375,0.15) -- (1.375,11.055);
\foreach \t in {600,800,1000,1200,1400}
  \draw[black, line width=0.3pt] ({1.375+(\t-430)*14.175/1200},0.436) -- ++(0,-0.05);
\draw[black, line width=0.8pt] (0.12,0.15) rectangle (15.55,11.055);

% channel labels
\tikzset{lab/.style={font=\fontsize{8.4pt}{10pt}\selectfont\bfseries, inner sep=0pt}}
\node[lab, trred, anchor=base east] at (1.25,10.775) {60.0 kA};
\node[lab, trred, anchor=base west] at (0.19,10.08) {I1};
\node[lab, trred, anchor=base east] at (1.25,9.389) {-60.0 kA};
\node[lab, trred, anchor=base east] at (1.25,9.034) {60.0 kA};
\node[lab, trred, anchor=base west] at (0.19,8.339) {I2};
\node[lab, trred, anchor=base east] at (1.25,7.648) {-60.0 kA};
\node[lab, trred, anchor=base east] at (1.25,7.293) {60.0 kA};
\node[lab, trred, anchor=base west] at (0.19,6.598) {I3};
\node[lab, trred, anchor=base east] at (1.25,5.907) {-60.0 kA};
\node[lab, trblue, anchor=base east] at (1.245,5.552) {6.0 kV};
\node[lab, trblue, anchor=base west] at (0.195,4.857) {U\_12};
\node[lab, trblue, anchor=base east] at (1.245,4.166) {-6.0 kV};
\node[lab, trblue, anchor=base east] at (1.245,3.811) {6.0 kV};
\node[lab, trblue, anchor=base west] at (0.195,3.116) {U\_31};
\node[lab, trblue, anchor=base east] at (1.245,2.425) {-6.0 kV};
\node[lab, trblue, anchor=base east] at (1.245,2.07) {6.0 kV};
\node[lab, trblue, anchor=base west] at (0.195,1.29) {U\_23};
\node[lab, trblue, anchor=base east] at (1.245,0.515) {-6.0 kV};

% time base strip
\node[lab, anchor=base west] at (0.14,0.19) {Sweep\#: 1};
\node[lab, anchor=base west] at (1.43,0.19) {0.43 s};
\node[lab, anchor=base] at (8.46,0.19) {200.0 ms/div};
\node[lab, anchor=base east] at (15.5,0.19) {1.63 s};
\end{tikzpicture}
\end{document}
